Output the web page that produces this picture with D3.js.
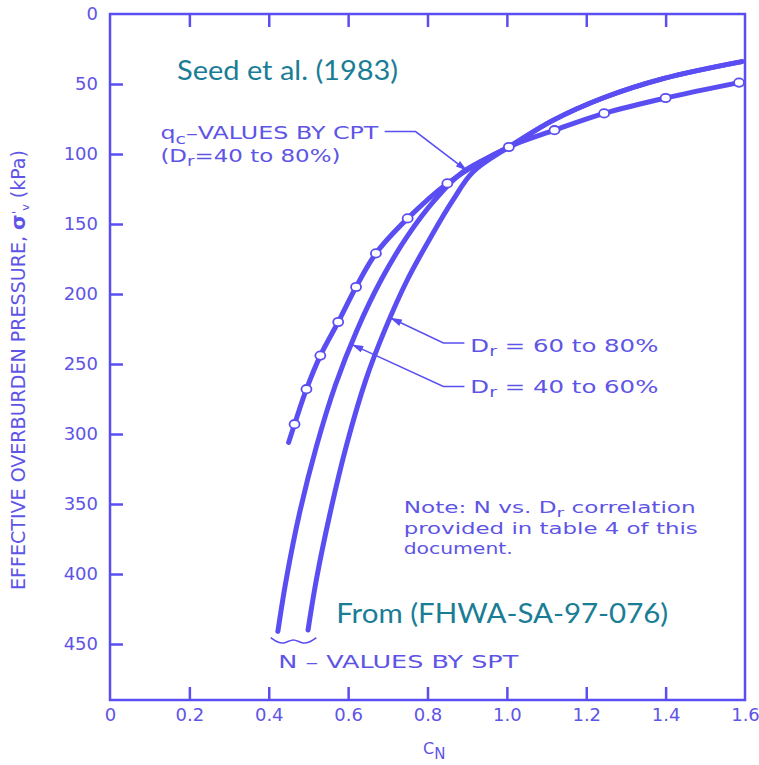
<!DOCTYPE html>
<html>
<head>
<meta charset="utf-8">
<script src="https://cdn.jsdelivr.net/npm/d3@7"></script>
<style>
  body { margin: 0; background: #ffffff; }
  svg { display: block; }
</style>
</head>
<body>
<svg id="chart" width="759" height="765"></svg>
<script>
// ---- axis ticks ----
const cnTicks = [0, 0.2, 0.4, 0.6, 0.8, 1.0, 1.2, 1.4, 1.6];
const cnTickLabels = ["0", "0.2", "0.4", "0.6", "0.8", "1.0", "1.2", "1.4", "1.6"];
const sigmaTicks = [0, 50, 100, 150, 200, 250, 300, 350, 400, 450];

// ---- q_c values by CPT (D_r = 40 to 80%) ----
// first point is the end of the curve, the rest carry open circles
const cptCN    = [0.45, 0.465, 0.495, 0.53, 0.575, 0.62, 0.67, 0.75, 0.85, 1.005, 1.12, 1.245, 1.4, 1.585];
const cptSigma = [306, 293, 268, 244, 220, 195, 171, 146, 121, 95, 83, 71, 60, 49];

// ---- N values by SPT, D_r = 40 to 60% ----
const dr4060CN    = [0.423, 0.444, 0.478, 0.52, 0.568, 0.622, 0.683, 0.751, 0.818, 0.888, 1.005, 1.116, 1.242, 1.396, 1.592];
const dr4060Sigma = [441, 404, 356, 309, 265, 226, 190, 158, 133, 113, 95, 76, 60, 46, 34];

// ---- N values by SPT, D_r = 60 to 80% ----
const dr6080CN    = [0.499, 0.52, 0.555, 0.595, 0.645, 0.692, 0.749, 0.811, 0.864, 0.914, 1.005, 1.116, 1.242, 1.396, 1.592];
const dr6080Sigma = [440, 404, 356, 309, 261, 226, 190, 158, 133, 113, 95, 76, 60, 46, 34];

const INK = "#5a4ef2";
const TEXT = "#5e54e6";
const TEAL = "#1a7d96";
const DRAFT = "'DejaVu Sans', sans-serif";

const svg = d3.select("#chart");
const x = d3.scaleLinear().domain([0, 1.6]).range([110, 745]);
const y = d3.scaleLinear().domain([0, 490]).range([14, 700]);

// stretch glyphs and spacing so a text spans a given width
function fitWidth(sel, width) {
  return sel.attr("textLength", width).attr("lengthAdjust", "spacingAndGlyphs");
}

const defs = svg.append("defs");
defs.append("marker")
  .attr("id", "arrow")
  .attr("viewBox", "0 0 10 6")
  .attr("refX", 10).attr("refY", 3)
  .attr("markerWidth", 12).attr("markerHeight", 7)
  .attr("markerUnits", "userSpaceOnUse")
  .attr("orient", "auto")
  .append("path").attr("d", "M0,0 L10,3 L0,6 Z").attr("fill", INK);

// ---- frame ----
svg.append("rect")
  .attr("x", x(0)).attr("y", y(0))
  .attr("width", x(1.6) - x(0)).attr("height", y(490) - y(0))
  .attr("fill", "none").attr("stroke", INK).attr("stroke-width", 2.5);

function styleAxis(g) {
  g.select(".domain").remove();
  g.selectAll(".tick line").attr("stroke", INK).attr("stroke-width", 2.5);
  g.selectAll(".tick text")
    .attr("fill", TEXT).attr("font-family", DRAFT).attr("font-size", 18);
}

// bottom axis: inward ticks and labels
svg.append("g")
  .attr("transform", `translate(0,${y(490)})`)
  .call(d3.axisBottom(x).tickValues(cnTicks)
    .tickFormat((d, i) => cnTickLabels[i])
    .tickSizeInner(-13).tickSizeOuter(0).tickPadding(8))
  .call(styleAxis)
  .call(g => g.selectAll(".tick line").filter(d => d === 0 || d === 1.6).remove());

// top axis: inward ticks only
svg.append("g")
  .attr("transform", `translate(0,${y(0)})`)
  .call(d3.axisTop(x).tickValues(cnTicks.slice(1, -1))
    .tickFormat("").tickSizeInner(-13).tickSizeOuter(0))
  .call(styleAxis);

// left axis
svg.append("g")
  .attr("transform", `translate(${x(0)},0)`)
  .call(d3.axisLeft(y).tickValues(sigmaTicks)
    .tickFormat(d3.format("d"))
    .tickSizeInner(-13).tickSizeOuter(0).tickPadding(12))
  .call(styleAxis)
  .call(g => g.selectAll(".tick line").filter(d => d === 0).remove());

// axis titles
const yTitle = svg.append("text")
  .attr("transform", `translate(25,${(150 + 590) / 2}) rotate(-90)`)
  .attr("text-anchor", "middle")
  .attr("font-family", "'Liberation Sans Narrow', 'DejaVu Sans Condensed', sans-serif")
  .attr("font-size", 19).attr("fill", TEXT);
yTitle.append("tspan").text("EFFECTIVE OVERBURDEN PRESSURE, ");
yTitle.append("tspan").attr("font-weight", "bold").attr("font-size", 20).text("σ");
yTitle.append("tspan").attr("dy", -4).attr("font-size", 13).text("'");
yTitle.append("tspan").attr("dy", 8).attr("font-size", 11).text("v");
yTitle.append("tspan").attr("dy", -4).text(" (kPa)");
fitWidth(yTitle, 440);

const xTitle = svg.append("text")
  .attr("x", 423).attr("y", 754)
  .attr("font-family", DRAFT).attr("font-size", 16).attr("fill", TEXT);
xTitle.append("tspan").text("C");
xTitle.append("tspan").attr("dy", 5).attr("font-size", 15).text("N");

// ---- curves ----
const line = d3.line()
  .x(d => x(d[0])).y(d => y(d[1]))
  .curve(d3.curveCatmullRom.alpha(0.5));

const cptPts = cptCN.map((c, i) => [c, cptSigma[i]]);
const dr4060Pts = dr4060CN.map((c, i) => [c, dr4060Sigma[i]]);
const dr6080Pts = dr6080CN.map((c, i) => [c, dr6080Sigma[i]]);

[dr4060Pts, dr6080Pts, cptPts].forEach(pts => {
  svg.append("path")
    .attr("d", line(pts))
    .attr("fill", "none")
    .attr("stroke", INK)
    .attr("stroke-width", 5)
    .attr("stroke-linecap", "round")
    .attr("stroke-linejoin", "round");
});

svg.append("g").selectAll("ellipse")
  .data(cptPts.slice(1))
  .join("ellipse")
  .attr("cx", d => x(d[0])).attr("cy", d => y(d[1]))
  .attr("rx", 5).attr("ry", 4.2)
  .attr("fill", "#ffffff").attr("stroke", INK).attr("stroke-width", 1.8);

// ---- annotations ----
function leader(points) {
  svg.append("path")
    .attr("d", d3.line().x(d => x(d[0])).y(d => y(d[1]))(points))
    .attr("fill", "none").attr("stroke", INK).attr("stroke-width", 1.5)
    .attr("marker-end", "url(#arrow)");
}

function drafting(cx, cy, size) {
  return svg.append("text")
    .attr("x", x(cx)).attr("y", y(cy))
    .attr("font-family", DRAFT).attr("font-size", size).attr("fill", TEXT);
}

// q_c label
const qc1 = drafting(0.127, 89.3, 17.5);
qc1.append("tspan").text("q");
qc1.append("tspan").attr("dy", 5).attr("font-size", 14).text("c");
qc1.append("tspan").attr("dy", -5).text("\u2013VALUES BY CPT");
fitWidth(qc1, 218);
const qc2 = drafting(0.127, 105.7, 17.5);
qc2.append("tspan").text("(D");
qc2.append("tspan").attr("dy", 4).attr("font-size", 14).text("r");
qc2.append("tspan").attr("dy", -4).text("=40 to 80%)");
fitWidth(qc2, 180);
leader([[0.692, 84], [0.77, 84], [0.9, 112]]);

// D_r labels
const d1 = drafting(0.908, 241.5, 18);
d1.append("tspan").text("D");
d1.append("tspan").attr("dy", 4).attr("font-size", 14).text("r");
d1.append("tspan").attr("dy", -4).text(" = 60 to 80%");
fitWidth(d1, 188);
leader([[0.893, 235], [0.84, 235], [0.706, 217]]);

const d2 = drafting(0.908, 270.7, 18);
d2.append("tspan").text("D");
d2.append("tspan").attr("dy", 4).attr("font-size", 14).text("r");
d2.append("tspan").attr("dy", -4).text(" = 40 to 60%");
fitWidth(d2, 188);
leader([[0.893, 266], [0.84, 266], [0.609, 236]]);

// note
const n1 = drafting(0.74, 356.4, 16);
n1.append("tspan").text("Note: N vs. D");
n1.append("tspan").attr("dy", 4).attr("font-size", 13).text("r");
n1.append("tspan").attr("dy", -4).text(" correlation");
fitWidth(n1, 292);
fitWidth(drafting(0.74, 371.4, 16).text("provided in table 4 of this"), 294);
fitWidth(drafting(0.74, 385.7, 16).text("document."), 109);

// SPT brace and label
svg.append("path")
  .attr("d", d3.line().x(d => x(d[0])).y(d => y(d[1])).curve(d3.curveBasis)([
    [0.405, 445.5], [0.425, 449.5], [0.442, 449.5], [0.462, 446], [0.482, 449.5], [0.5, 449.5], [0.52, 445.5]
  ]))
  .attr("fill", "none").attr("stroke", INK).attr("stroke-width", 1.6);
fitWidth(drafting(0.424, 467, 17).text("N \u2013 VALUES BY SPT"), 240);

// source notes
const seed = svg.append("text")
  .attr("x", x(0.169)).attr("y", y(47))
  .attr("font-family", "Lato, 'Open Sans', sans-serif")
  .attr("font-size", 27).attr("fill", TEAL)
  .text("Seed et al. (1983)");
fitWidth(seed, 221);

const from = svg.append("text")
  .attr("x", x(0.57)).attr("y", y(435))
  .attr("font-family", "Lato, 'Open Sans', sans-serif")
  .attr("font-size", 27).attr("fill", TEAL)
  .text("From (FHWA-SA-97-076)");
fitWidth(from, 332);
</script>
</body>
</html>
